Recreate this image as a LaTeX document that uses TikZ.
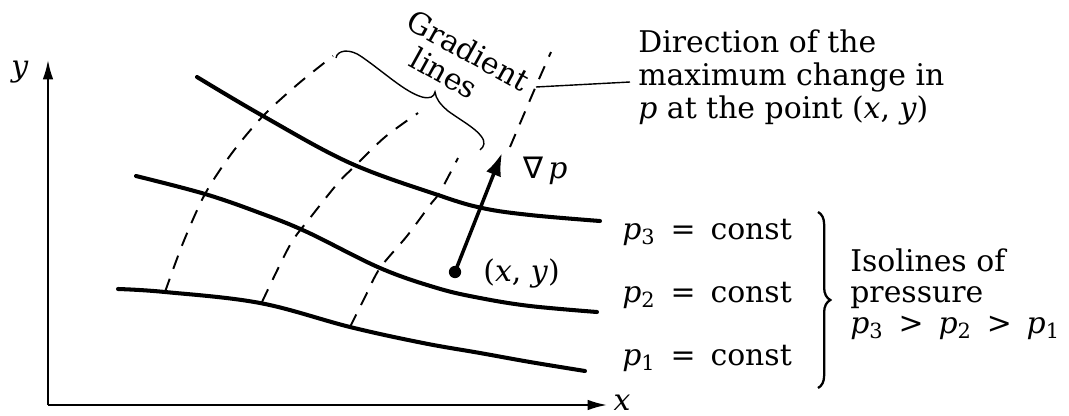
\documentclass[tikz,border=0pt]{standalone}
\usepackage{fontspec}
\setmainfont{DejaVu Serif}
\newfontfamily\symfnt{DejaVu Sans}
\usetikzlibrary{arrows.meta,decorations.pathreplacing}
\newcommand\pvar[1]{\textit{p}\textsubscript{#1}}
\newcommand\opsp{\hspace{0.5em}}
\begin{document}
\begin{tikzpicture}[x=0.02cm,y=-0.02cm,
  iso/.style={line width=2.3pt, line cap=round},
  grad/.style={line width=1.1pt, dash pattern=on 8pt off 6pt},
  axis/.style={line width=1.1pt, -{Latex[length=11pt,width=6pt]}},
  thinline/.style={line width=0.8pt},
  gradarrow/.style={line width=2pt, -{Latex[length=13pt,width=9pt]}},
  dotnode/.style={circle, fill=black, minimum size=7pt, inner sep=0pt},
  lbl/.style={font=\fontsize{17}{18.5}\selectfont, inner sep=0pt},
  bracedeco/.style={line width=1.3pt, decorate, decoration={brace, amplitude=7pt}},
]
\useasboundingbox (0,0) rectangle (1069,416);

% axes
\coordinate (O) at (48,405);
\coordinate (ytip) at (48,60);
\coordinate (xtip) at (607,405);
\draw[axis] (O) -- (ytip);
\draw[axis] (O) -- (xtip);
\node[lbl] (ylab) at (20,72) {\textit{y}};
\node[lbl] (xlab) at (622,403) {\textit{x}};

% isolines
\draw[iso] plot[smooth, tension=0.6] coordinates {(197,77) (263,116) (350,163) (438,195) (482,208) (530,215) (600,221)};
\draw[iso] plot[smooth, tension=0.6] coordinates {(136,176) (205,194) (260,213) (307,232) (380,268) (437,288) (480,298) (530,306) (597,312)};
\draw[iso] plot[smooth, tension=0.6] coordinates {(118,289) (165,292) (260,303) (350,327) (423,343) (480,353) (530,362) (585,371)};

% gradient lines
\draw[grad] plot[smooth] coordinates {(165,292) (183,243) (205,194) (232,153) (263,116) (298,84) (333,56)};
\draw[grad] plot[smooth] coordinates {(262,302) (290,245) (310,218) (338,183) (356,165) (385,137) (418,113)};
\draw[grad] plot[smooth] coordinates {(350,327) (365,297) (380,268) (407,236) (430,205) (440,192) (458,158)};
\draw[grad] plot[smooth] coordinates {(510,147) (536,86) (551,52)};

% gradient vector
\node[dotnode] (pt) at (455,272) {};
\coordinate (gtip) at (502,153);
\draw[gradarrow] (pt.center) -- (gtip);
\node[lbl, anchor=west] (nabla) at (523,171) {{\symfnt ∇}\,\textit{p}};
\node[lbl, anchor=west] (xy) at (483,273) {(\textit{x}, \textit{y})};

% brace for gradient lines
\draw[thinline] (336,58) .. controls (337,50) and (350,48) .. (362,57)
  .. controls (385,73) and (405,92) .. (422,97)
  .. controls (430,99) and (434,97) .. (435,92)
  .. controls (436,99) and (440,104) .. (448,111)
  .. controls (462,121) and (475,128) .. (481,136)
  .. controls (486,142) and (484,147) .. (480,150);
\node[lbl, rotate=-29, align=left, font=\fontsize{17}{18}\selectfont] (gradtxt) at (461,64) {Gradient\\\hspace*{12pt}lines};

% leader and direction text
\coordinate (leadA) at (536,87);
\coordinate (leadB) at (630,82);
\draw[thinline] (leadA) -- (leadB);
\node[lbl, anchor=base west] (d1) at (638,52) {Direction of the};
\node[lbl, anchor=base west] (d2) at (638,85) {maximum change in};
\node[lbl, anchor=base west] (d3) at (638,118) {\textit{p} at the point (\textit{x}, \textit{y})};

% isoline labels
\node[lbl, anchor=west] (p3) at (622,232) {\pvar{3}\opsp=\opsp const};
\node[lbl, anchor=west] (p2) at (622,295) {\pvar{2}\opsp=\opsp const};
\node[lbl, anchor=west] (p1) at (622,358) {\pvar{1}\opsp=\opsp const};
\coordinate (bt) at (818,212);
\coordinate (bb) at (818,388);
\draw[bracedeco] (bt) -- (bb);
\node[lbl, anchor=base west] (i1) at (850,271) {Isolines of};
\node[lbl, anchor=base west] (i2) at (850,302) {pressure};
\node[lbl, anchor=base west] (i3) at (850,333) {\pvar{3}\opsp>\opsp\pvar{2}\opsp>\opsp\pvar{1}};
\end{tikzpicture}
\end{document}
